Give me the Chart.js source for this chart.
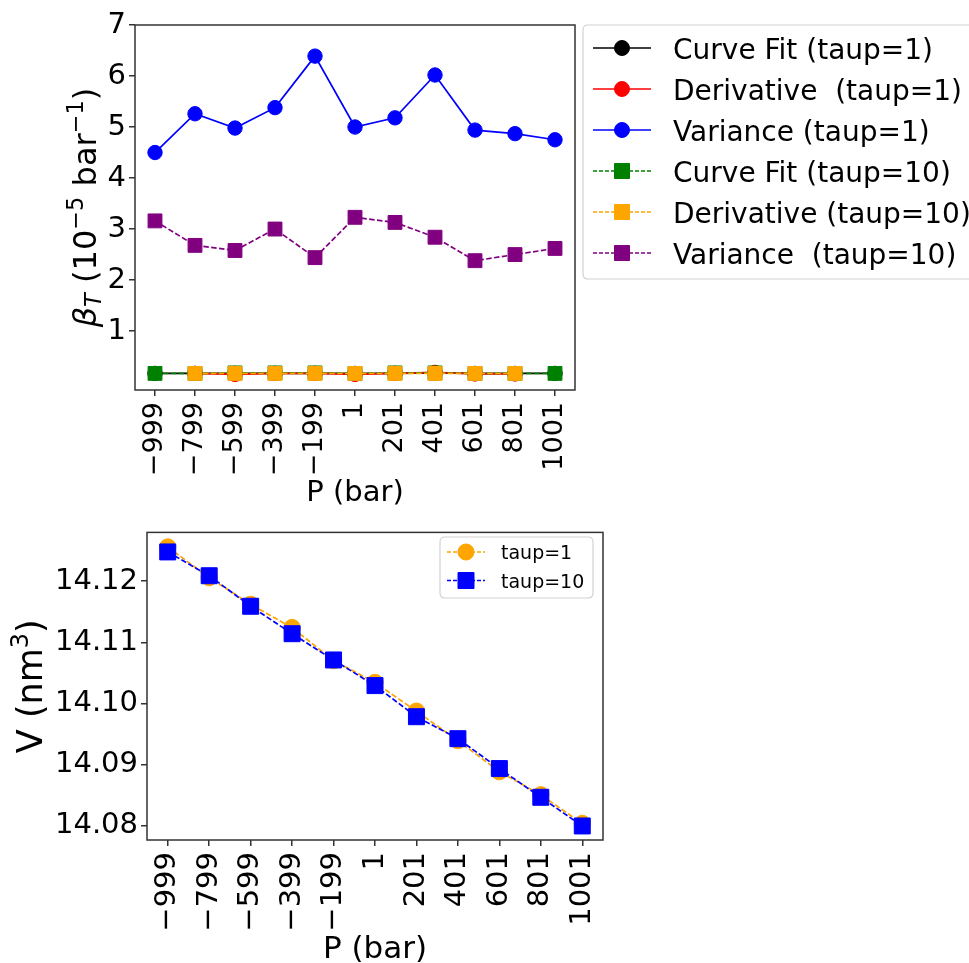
<!DOCTYPE html>
<html><head><meta charset="utf-8">
<script src="https://cdn.jsdelivr.net/npm/chart.js@4.4.1/dist/chart.umd.min.js"></script>
<style>
html,body{margin:0;padding:0;background:#fff;}
#wrap{position:relative;width:969px;height:963px;overflow:hidden;background:#fff;}
.box{position:absolute;left:0;width:969px;}
#b1{top:0;height:512px;}
#b2{top:512px;height:451px;}
</style></head><body>
<div id="wrap">
<div class="box" id="b1"><canvas id="c1" width="969" height="512"></canvas></div>
<div class="box" id="b2"><canvas id="c2" width="969" height="451"></canvas></div>
</div>
<script>
// ---------- data ----------
const pressures = ['\u2212999','\u2212799','\u2212599','\u2212399','\u2212199','1','201','401','601','801','1001'];

const curveFitTaup1  = [0.17,0.17,0.17,0.17,0.17,0.17,0.17,0.18,0.17,0.17,0.17];
const derivTaup1     = [null,0.17,0.15,0.17,0.17,0.15,0.17,0.19,0.16,0.16,null];
const varianceTaup1  = [4.50,5.26,4.98,5.38,6.39,5.00,5.18,6.02,4.94,4.87,4.75];
const curveFitTaup10 = [0.17,0.17,0.18,0.18,0.18,0.17,0.18,0.18,0.17,0.17,0.17];
const derivTaup10    = [null,0.17,0.17,0.17,0.17,0.17,0.17,0.17,0.17,0.17,null];
const varianceTaup10 = [3.16,2.68,2.58,3.00,2.44,3.23,3.13,2.84,2.38,2.50,2.62];

const volumeTaup1  = [14.1256,14.1206,14.1162,14.1124,14.1070,14.1034,14.0987,14.0939,14.0888,14.0850,14.0803];
const volumeTaup10 = [14.1248,14.1209,14.1159,14.1114,14.1071,14.1029,14.0978,14.0942,14.0893,14.0846,14.0799];

const betaTicks   = [1,2,3,4,5,6,7];
const volumeTicks = [14.08,14.09,14.10,14.11,14.12];

// ---------- helpers ----------
const FONT = '"DejaVu Sans", sans-serif';
const DASH = [5.5, 2.4];
Chart.defaults.color = '#000';
Chart.defaults.font.family = FONT;

function drawMarker(ctx, style, x, y, size, color) {
  ctx.save();
  ctx.fillStyle = color; ctx.strokeStyle = color; ctx.lineWidth = 1; ctx.setLineDash([]);
  ctx.beginPath();
  if (style === 'circle') ctx.arc(x, y, size / 2, 0, Math.PI * 2);
  else ctx.rect(x - size / 2, y - size / 2, size, size);
  ctx.fill(); ctx.stroke();
  ctx.restore();
}

function richText(ctx, parts, x, y, rot) {
  ctx.save();
  ctx.translate(x, y);
  if (rot) ctx.rotate(-Math.PI / 2);
  const fs = p => (p.italic ? 'italic ' : '') + p.size + 'px ' + FONT;
  let total = 0;
  const ws = parts.map(p => { ctx.font = fs(p); const w = ctx.measureText(p.t).width; total += w; return w; });
  let cx = -total / 2;
  ctx.textBaseline = 'alphabetic'; ctx.textAlign = 'left'; ctx.fillStyle = '#000';
  parts.forEach((p, i) => { ctx.font = fs(p); ctx.fillText(p.t, cx, p.dy || 0); cx += ws[i]; });
  ctx.restore();
}

function roundRect(ctx, x, y, w, h, r) {
  ctx.beginPath();
  ctx.moveTo(x + r, y); ctx.lineTo(x + w - r, y); ctx.quadraticCurveTo(x + w, y, x + w, y + r);
  ctx.lineTo(x + w, y + h - r); ctx.quadraticCurveTo(x + w, y + h, x + w - r, y + h);
  ctx.lineTo(x + r, y + h); ctx.quadraticCurveTo(x, y + h, x, y + h - r);
  ctx.lineTo(x, y + r); ctx.quadraticCurveTo(x, y, x + r, y); ctx.closePath();
}

function decorPlugin(cfg) {
  return {
    id: 'decor',
    afterDatasetsDraw(chart) {
      const ctx = chart.ctx, a = chart.chartArea;
      ctx.save();
      ctx.strokeStyle = '#333'; ctx.lineWidth = 1.5; ctx.setLineDash([]);
      ctx.strokeRect(a.left, a.top, a.right - a.left, a.bottom - a.top);
      ctx.restore();
    },
    afterDraw(chart) {
      const ctx = chart.ctx, a = chart.chartArea;
      richText(ctx, [{t: 'P (bar)', size: cfg.xTitleSize}], (a.left + a.right) / 2, cfg.xTitleBaseline, false);
      richText(ctx, cfg.yTitleParts, cfg.yTitleX, (a.top + a.bottom) / 2, true);
      const L = cfg.legend;
      ctx.save();
      roundRect(ctx, L.x, L.y, L.w, L.h, 5);
      ctx.fillStyle = 'rgba(255,255,255,0.8)'; ctx.fill();
      ctx.strokeStyle = '#d2d2d2'; ctx.lineWidth = 1.2; ctx.stroke();
      ctx.restore();
      chart.data.datasets.forEach((ds, i) => {
        const cy = L.row0 + i * L.rowGap;
        ctx.save();
        ctx.strokeStyle = ds.borderColor; ctx.lineWidth = L.lineW;
        ctx.setLineDash(ds.borderDash && ds.borderDash.length ? [4, 2] : []);
        ctx.beginPath(); ctx.moveTo(L.lineX0, cy); ctx.lineTo(L.lineX1, cy); ctx.stroke();
        ctx.restore();
        drawMarker(ctx, ds.pointStyle, (L.lineX0 + L.lineX1) / 2, cy, L.markerSize, ds.pointBackgroundColor);
        ctx.save();
        ctx.font = L.fontSize + 'px ' + FONT; ctx.fillStyle = '#000';
        ctx.textBaseline = 'alphabetic'; ctx.textAlign = 'left';
        ctx.fillText(ds.label, L.textX, cy + L.fontSize * 0.38);
        ctx.restore();
      });
    }
  };
}

function lineDs(label, data, color, style, dashed, radius, order) {
  return {
    label, data, order,
    borderColor: color, backgroundColor: color, borderWidth: 1.7,
    borderDash: dashed ? DASH : [],
    pointStyle: style, pointRadius: radius, pointHoverRadius: radius,
    pointBackgroundColor: color, pointBorderColor: color, pointBorderWidth: 1,
    fill: false, tension: 0
  };
}

function gridOpts() {
  return { display: true, drawOnChartArea: false, drawTicks: true, tickLength: 6, color: '#333', lineWidth: 1.5, offset: false };
}

// ---------- top chart ----------
new Chart(document.getElementById('c1'), {
  type: 'line',
  data: {
    labels: pressures,
    datasets: [
      lineDs('Curve Fit (taup=1)', curveFitTaup1, '#000000', 'circle', false, 7.2, 5),
      lineDs('Derivative  (taup=1)', derivTaup1, '#ff0000', 'circle', false, 7.2, 4),
      lineDs('Variance (taup=1)', varianceTaup1, '#0000ff', 'circle', false, 7.2, 3),
      lineDs('Curve Fit (taup=10)', curveFitTaup10, '#008000', 'rect', true, 9.8, 2),
      lineDs('Derivative (taup=10)', derivTaup10, '#ffa500', 'rect', true, 9.8, 1),
      lineDs('Variance  (taup=10)', varianceTaup10, '#800080', 'rect', true, 9.8, 0)
    ]
  },
  options: {
    responsive: false, animation: false, events: [],
    layout: { padding: { left: 0, top: 25, right: 394, bottom: 0 } },
    plugins: { legend: { display: false }, tooltip: { enabled: false } },
    scales: {
      x: {
        type: 'category', offset: true,
        grid: gridOpts(), border: { display: false },
        ticks: { minRotation: 90, maxRotation: 90, autoSkip: false, padding: 6, font: { size: 27 } },
        afterFit(s) { s.height = 122; }
      },
      y: {
        type: 'linear', min: -0.155, max: 7,
        grid: gridOpts(), border: { display: false },
        ticks: { padding: 3, font: { size: 29 }, callback: v => String(v) },
        afterBuildTicks(s) { s.ticks = betaTicks.map(v => ({ value: v })); },
        afterFit(s) { s.width = 135; }
      }
    }
  },
  plugins: [decorPlugin({
    xTitleSize: 29, xTitleBaseline: 501,
    yTitleX: 96,
    yTitleParts: [
      {t: '\u03b2', size: 32, italic: true},
      {t: 'T', size: 22.5, italic: true, dy: 5},
      {t: ' (10', size: 32},
      {t: '\u22125', size: 22.5, dy: -13},
      {t: ' bar', size: 32},
      {t: '\u22121', size: 22.5, dy: -13},
      {t: ')', size: 32}
    ],
    legend: { x: 583, y: 25, w: 400, h: 254, row0: 48, rowGap: 41, lineX0: 593, lineX1: 651,
              markerSize: 15, lineW: 1.5, textX: 673, fontSize: 28 }
  })]
});

// ---------- bottom chart ----------
new Chart(document.getElementById('c2'), {
  type: 'line',
  data: {
    labels: pressures,
    datasets: [
      lineDs('taup=1', volumeTaup1, '#ffa500', 'circle', true, 8.2, 1),
      lineDs('taup=10', volumeTaup10, '#0000ff', 'rect', true, 11.3, 0)
    ]
  },
  options: {
    responsive: false, animation: false, events: [],
    layout: { padding: { left: 0, top: 14, right: 366, bottom: 0 } },
    plugins: { legend: { display: false }, tooltip: { enabled: false } },
    scales: {
      x: {
        type: 'category', offset: true,
        grid: gridOpts(), border: { display: false },
        ticks: { minRotation: 90, maxRotation: 90, autoSkip: false, padding: 6, font: { size: 29 } },
        afterFit(s) { s.height = 123; }
      },
      y: {
        type: 'linear', min: 14.0776, max: 14.1280,
        grid: gridOpts(), border: { display: false },
        ticks: { padding: 3, font: { size: 29 }, callback: v => Number(v).toFixed(2) },
        afterBuildTicks(s) { s.ticks = volumeTicks.map(v => ({ value: v })); },
        afterFit(s) { s.width = 147; }
      }
    }
  },
  plugins: [decorPlugin({
    xTitleSize: 31, xTitleBaseline: 446,
    yTitleX: 42,
    yTitleParts: [
      {t: 'V (nm', size: 35},
      {t: '3', size: 24, dy: -14},
      {t: ')', size: 35}
    ],
    legend: { x: 440, y: 25, w: 153, h: 61, row0: 40, rowGap: 28.5, lineX0: 447, lineX1: 485,
              markerSize: 16, lineW: 1.5, textX: 501, fontSize: 19 }
  })]
});
</script>
</body></html>
